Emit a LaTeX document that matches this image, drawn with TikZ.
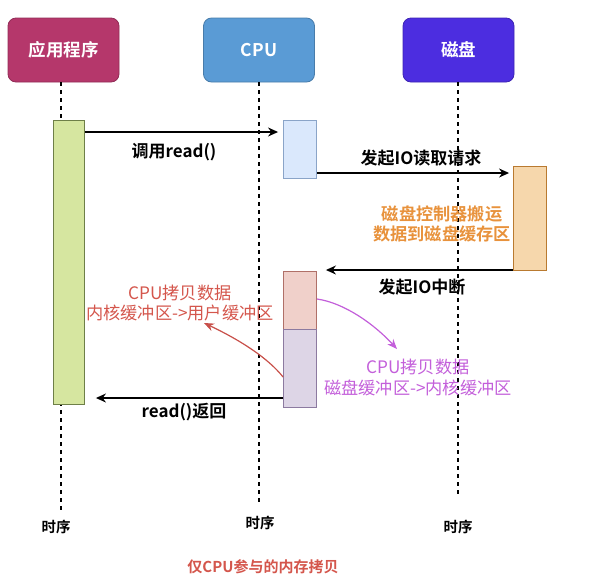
\documentclass[tikz,border=0pt]{standalone}
\usepackage{fontspec}
\setmainfont{Noto Sans CJK SC}[BoldFont={Noto Sans CJK SC Bold}]
\usetikzlibrary{arrows.meta}
\definecolor{appc}{HTML}{B5376B}
\definecolor{cpuc}{HTML}{5A9BD5}
\definecolor{diskc}{HTML}{4C2DE0}
\definecolor{greenf}{HTML}{D6E6A0}
\definecolor{greend}{HTML}{6E7F48}
\definecolor{bluef}{HTML}{DAE8FC}
\definecolor{blued}{HTML}{8AA4C8}
\definecolor{orangef}{HTML}{F6D7AC}
\definecolor{oranged}{HTML}{B97A30}
\definecolor{pinkf}{HTML}{F0D0CA}
\definecolor{pinkd}{HTML}{B07068}
\definecolor{lavf}{HTML}{DDD5E6}
\definecolor{lavd}{HTML}{8C7AA0}
\definecolor{orangetxt}{HTML}{E8923C}
\definecolor{redc}{HTML}{C8504A}
\definecolor{redtxt}{HTML}{D4564C}
\definecolor{magc}{HTML}{C35FDA}
\tikzset{
  header/.style={draw=#1!80!black, fill=#1, rounded corners=8pt, minimum width=111pt, minimum height=64pt, text=white, font=\bfseries\fontsize{17.5}{20}\selectfont, line width=0.8pt},
  actbox/.style n args={2}{draw=#2, fill=#1, minimum width=33pt, line width=0.9pt, inner sep=0pt},
  lifeline/.style={dash pattern=on 4pt off 4pt, line width=1.1pt, black},
  msg/.style={-{Stealth[length=10pt,width=9pt]}, line width=1.2pt, black},
  lbl/.style={font=\bfseries\fontsize{17}{20}\selectfont, black},
  note/.style={font=\fontsize{17.2}{20.5}\selectfont, align=center},
  seq/.style={font=\bfseries\fontsize{14.5}{17}\selectfont, black}
}
\begin{document}
\begin{tikzpicture}[x=1pt,y=-1pt]
\useasboundingbox (0,0) rectangle (604,587);
% headers
\node[header=appc] (app) at (63.5,50) {应用程序};
\node[header=cpuc] (cpu) at (259,50) {CPU};
\node[header=diskc] (disk) at (458.5,50) {磁盘};
% lifeline ends
\coordinate (appEnd) at (61,510);
\coordinate (cpuEnd) at (259,502);
\coordinate (diskEnd) at (458,498);
\draw[lifeline] (app.south -| appEnd) -- (appEnd);
\draw[lifeline] (cpu.south) -- (cpuEnd);
\draw[lifeline] (disk.south -| diskEnd) -- (diskEnd);
% activation boxes
\node[actbox={greenf}{greend}, minimum width=31pt, minimum height=284pt] (appA) at (69,262) {};
\node[actbox={bluef}{blued}, minimum height=58pt] (cpuA) at (300,149) {};
\node[actbox={orangef}{oranged}, minimum height=104pt] (diskA) at (530,218) {};
\node[actbox={pinkf}{pinkd}, minimum height=58pt] (cpuB) at (300,300) {};
\node[actbox={lavf}{lavd}, minimum height=78pt] (cpuC) at (300,368) {};
% messages
\draw[msg, shorten >=5pt] (appA.east |- 0,132) -- (cpuA.west |- 0,132);
\node[lbl] (l1) at (174,152) {调用read()};
\draw[msg, shorten >=4pt] (cpuA.east |- 0,173) -- (diskA.west |- 0,173);
\node[lbl] (l2) at (421,158) {发起IO读取请求};
\draw[msg, shorten >=9pt] (diskA.west |- 0,270) -- (cpuB.east |- 0,270);
\node[lbl] (l3) at (422,287) {发起IO中断};
\draw[msg, shorten >=11pt] (cpuC.west |- 0,398) -- (appA.east |- 0,398);
\node[lbl] (l4) at (184,412) {read()返回};
% notes
\node[note, font=\bfseries\fontsize{17.2}{19.5}\selectfont, text=orangetxt] (n1) at (442,224) {磁盘控制器搬运\\数据到磁盘缓存区};
\node[note, text=redtxt] (n2) at (180,303) {CPU拷贝数据\\内核缓冲区->用户缓冲区};
\node[note, text=magc] (n3) at (418,377.5) {CPU拷贝数据\\磁盘缓冲区->内核缓冲区};
% curved copy arrows
\coordinate (redS) at (cpuC.west |- 0,377);
\coordinate (redE) at (204,323);
\draw[redc, line width=1.2pt, -{Stealth[length=10pt,width=8pt]}] (redS) .. controls (268,358) and (240,340) .. (redE);
\coordinate (magS) at (cpuB.east |- 0,299);
\coordinate (magE) at (397,349);
\draw[magc, line width=1.2pt, -{Stealth[length=10pt,width=8pt]}] (magS) .. controls (345,303) and (375,325) .. (magE);
% time labels
\node[seq] (t1) at (56,527) {时序};
\node[seq] (t2) at (260,523) {时序};
\node[seq] (t3) at (458,527) {时序};
% title
\node[font=\bfseries\fontsize{15}{18}\selectfont, text=redtxt] (title) at (263,567) {仅CPU参与的内存拷贝};
\end{tikzpicture}
\end{document}
